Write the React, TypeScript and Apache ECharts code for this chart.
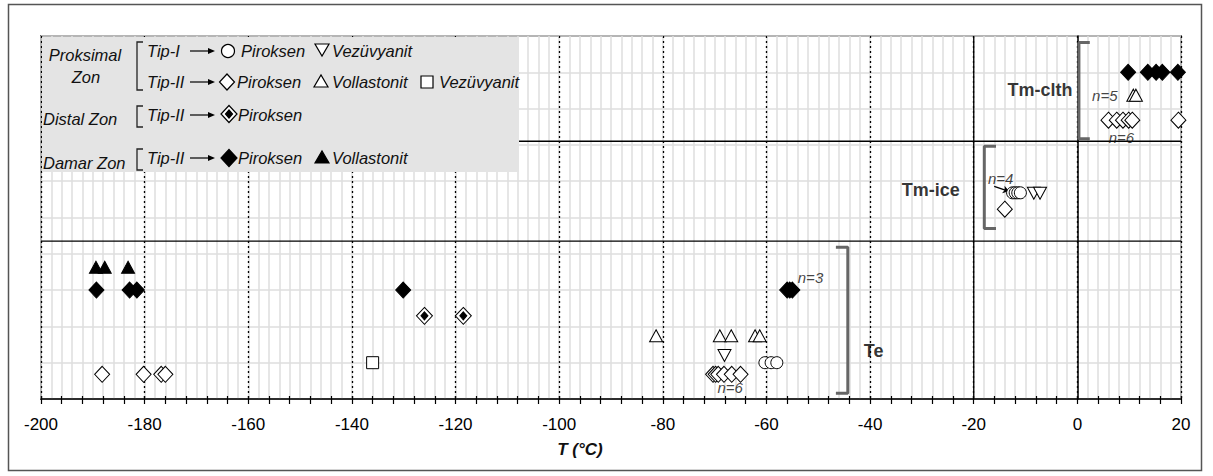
import React, { useEffect, useRef } from "react";
import * as echarts from "echarts";

// ---------- data ----------
const xTicksMajor = [-200, -180, -160, -140, -120, -100, -80, -60, -40, -20, 0, 20];

// Te (ötektik) band
const damarPiroksenTe = [[-189.3, 3.0], [-182.9, 3.0], [-181.5, 3.0], [-130.1, 3.0], [-56.0, 3.0], [-55.5, 3.0], [-55.0, 3.0]];
const damarVollastonitTe = [[-189.4, 3.63], [-187.7, 3.63], [-183.2, 3.63]];
const distalPiroksenTe = [[-126.0, 2.29], [-118.5, 2.29]];
const prok2PiroksenTe = [[-188.2, 0.68], [-180.2, 0.68], [-176.8, 0.68], [-176.0, 0.68], [-70.3, 0.68], [-69.8, 0.68], [-69.3, 0.68], [-68.2, 0.68], [-66.7, 0.68], [-65.0, 0.68]];
const prok2VollastonitTe = [[-81.3, 1.74], [-69.0, 1.74], [-66.8, 1.74], [-62.2, 1.74], [-61.3, 1.74]];
const prok2VezuvyanitTe = [[-136.0, 1.0]];
const prok1PiroksenTe = [[-60.3, 1.0], [-59.1, 1.0], [-58.0, 1.0]];
const prok1VezuvyanitTe = [[-68.1, 1.2]];

// Tm-ice band
const prok1PiroksenIce = [[-12.5, 5.68], [-12.0, 5.68], [-11.5, 5.68], [-11.0, 5.68]];
const prok1VezuvyanitIce = [[-8.4, 5.67], [-7.2, 5.67]];
const prok2PiroksenIce = [[-14.0, 5.23]];

// Tm-clth band
const damarPiroksenClth = [[9.8, 9.0], [13.6, 9.0], [15.2, 9.0], [16.4, 9.0], [19.4, 9.0]];
const prok2VollastonitClth = [[10.8, 8.37], [11.3, 8.37]];
const prok2PiroksenClth = [[6.0, 7.68], [7.6, 7.68], [8.8, 7.68], [9.9, 7.68], [10.6, 7.68], [19.5, 7.68]];

// band separators and brackets
const bandLineUpper = [[-200, 7.1], [20, 7.1]];
const bandLineLower = [[-200, 4.35], [20, 4.35]];
const bandLineVertical = [[-20, 0], [-20, 10]];
const bracketTe = [[-46.6, 4.18], [-44.3, 4.18], [-44.3, 0.16], [-46.6, 0.16]];
const bracketIce = [[-15.7, 6.96], [-17.96, 6.96], [-17.96, 4.7], [-15.7, 4.7]];
const bracketClth = [[2.4, 9.82], [0.3, 9.82], [0.3, 7.17], [2.4, 7.17]];

// annotations
const bandLabels = [
  { text: "Te", x: -41.2, y: 1.32, align: "left" },
  { text: "Tm-ice", x: -28.3, y: 5.75, align: "center" },
  { text: "Tm-clth", x: -7.2, y: 8.5, align: "center" },
];
const countLabels = [
  { text: "n=3", x: -51.5, y: 3.35 },
  { text: "n=6", x: -67.0, y: 0.32 },
  { text: "n=4", x: -14.8, y: 6.07 },
  { text: "n=5", x: 5.3, y: 8.37 },
  { text: "n=6", x: 8.5, y: 7.2 },
];
const arrowN4 = [[-16.05, 5.86], [-13.2, 5.72]];

// ---------- layout ----------
const W = 1213;
const H = 476;
const GL = 41, GT = 36, GW = 1140, GH = 363;
const FONT = "Liberation Sans, Arial, sans-serif";
const LEG_FS = 16.5;

function scatter(data: number[][], symbol: string, size: any, fill: string, extra: any = {}) {
  return {
    type: "scatter",
    data,
    symbol,
    symbolSize: size,
    xAxisIndex: 0,
    yAxisIndex: 0,
    z: 5,
    itemStyle: { color: fill, borderColor: "#000", borderWidth: 1, opacity: 1 },
    emphasis: { disabled: true },
    ...extra,
  };
}

function polyline(data: number[][], color: string, width: number) {
  return {
    type: "line",
    data,
    symbol: "none",
    xAxisIndex: 0,
    yAxisIndex: 0,
    z: 3,
    lineStyle: { color, width },
    silent: true,
  };
}

// legend helpers (pixel graphics)
function gText(text: string, x: number, y: number, opts: any = {}) {
  return {
    type: "text",
    x,
    y,
    z: 101,
    style: {
      text,
      fill: "#111",
      font: `italic ${LEG_FS}px ${FONT}`,
      textVerticalAlign: "middle",
      textAlign: "left",
      ...opts,
    },
  };
}
function gDiamond(cx: number, cy: number, w: number, h: number, fill: string) {
  return {
    type: "polygon",
    z: 101,
    shape: { points: [[cx, cy - h / 2], [cx + w / 2, cy], [cx, cy + h / 2], [cx - w / 2, cy]] },
    style: { fill, stroke: "#000", lineWidth: 1.2 },
  };
}
function gTri(cx: number, cy: number, w: number, h: number, fill: string, down = false) {
  const pts = down
    ? [[cx - w / 2, cy - h / 2], [cx + w / 2, cy - h / 2], [cx, cy + h / 2]]
    : [[cx - w / 2, cy + h / 2], [cx + w / 2, cy + h / 2], [cx, cy - h / 2]];
  return { type: "polygon", z: 101, shape: { points: pts }, style: { fill, stroke: "#000", lineWidth: 1.2 } };
}
function gArrow(x1: number, x2: number, y: number) {
  return [
    { type: "line", z: 101, shape: { x1, y1: y, x2: x2 - 5, y2: y }, style: { stroke: "#000", lineWidth: 1.2 } },
    { type: "polygon", z: 101, shape: { points: [[x2, y], [x2 - 7, y - 3], [x2 - 7, y + 3]] }, style: { fill: "#000" } },
  ];
}
function gBracket(x: number, y1: number, y2: number) {
  return {
    type: "polyline",
    z: 101,
    shape: { points: [[x + 6, y1], [x, y1], [x, y2], [x + 6, y2]] },
    style: { stroke: "#222", lineWidth: 1.3, fill: null },
  };
}

export default function App() {
  const ref = useRef<HTMLDivElement>(null);
  useEffect(() => {
    if (!ref.current) return;
    const chart = echarts.init(ref.current, undefined, { renderer: "svg" });

    const r1 = 51, r2 = 82, r3 = 115, r4 = 158;
    const legend: any[] = [
      { type: "rect", z: 100, shape: { x: GL + 1, y: GT + 1, width: 477, height: 135 }, style: { fill: "#e4e4e4" } },
      gText("Proksimal", 85, 55, { textAlign: "center" }),
      gText("Zon", 86, 77, { textAlign: "center" }),
      gBracket(137, 42, 90),
      gText("Tip-I", 147, r1),
      ...gArrow(190, 215, r1),
      { type: "circle", z: 101, shape: { cx: 228, cy: r1, r: 6.5 }, style: { fill: "#fff", stroke: "#000", lineWidth: 1.2 } },
      gText("Piroksen", 241, r1),
      gTri(322, r1 - 1, 14, 12, "#fff", true),
      gText("Vezüvyanit", 332, r1),
      gText("Tip-II", 147, r2),
      ...gArrow(190, 215, r2),
      gDiamond(227, r2, 15, 16, "#fff"),
      gText("Piroksen", 237, r2),
      gTri(321, r2 - 1, 14, 12, "#fff"),
      gText("Vollastonit", 332, r2),
      { type: "rect", z: 101, shape: { x: 421, y: r2 - 6, width: 12, height: 12 }, style: { fill: "#fff", stroke: "#000", lineWidth: 1.2 } },
      gText("Vezüvyanit", 439, r2),
      gText("Distal Zon", 43, r3 + 4),
      gBracket(137, 106, 127),
      gText("Tip-II", 147, r3),
      ...gArrow(190, 215, r3),
      gDiamond(229, r3 - 1, 16, 17, "#fff"),
      gDiamond(229, r3 - 1, 7, 8, "#000"),
      gText("Piroksen", 238, r3),
      gText("Damar Zon", 43, r4 + 5),
      gBracket(137, 149, 170),
      gText("Tip-II", 147, r4),
      ...gArrow(190, 215, r4),
      gDiamond(229, r4, 16, 17, "#000"),
      gText("Piroksen", 238, r4),
      gTri(322, r4 - 1, 14, 12, "#000"),
      gText("Vollastonit", 332, r4),
    ];

    const frame = {
      type: "rect",
      z: 0,
      silent: true,
      shape: { x: 8.5, y: 4.5, width: 1193, height: 466 },
      style: { fill: null, stroke: "#555", lineWidth: 1.5 },
    };
    const title = {
      type: "text",
      z: 101,
      x: 580,
      y: 449,
      style: { text: "T (°C)", font: `italic bold 17px ${FONT}`, fill: "#111", textAlign: "center", textVerticalAlign: "middle" },
    };

    const openWhite = "#ffffff";
    const series: any[] = [
      polyline(bandLineUpper, "#000", 1.3),
      polyline(bandLineLower, "#000", 1.3),
      polyline(bandLineVertical, "#000", 1.3),
      polyline(bracketTe, "#666", 3),
      polyline(bracketIce, "#666", 3),
      polyline(bracketClth, "#666", 3),
      // Proksimal Tip-I
      scatter(prok1PiroksenTe, "circle", 12, openWhite),
      scatter(prok1PiroksenIce, "circle", 12, openWhite),
      scatter(prok1VezuvyanitTe, "triangle", [13, 12], openWhite, { symbolRotate: 180 }),
      scatter(prok1VezuvyanitIce, "triangle", [13, 12], openWhite, { symbolRotate: 180 }),
      // Proksimal Tip-II
      scatter(prok2PiroksenTe, "diamond", [15, 16], openWhite),
      scatter(prok2PiroksenIce, "diamond", [15, 16], openWhite),
      scatter(prok2PiroksenClth, "diamond", [15, 16], openWhite),
      scatter(prok2VollastonitTe, "triangle", [13, 12], openWhite),
      scatter(prok2VollastonitClth, "triangle", [13, 12], openWhite),
      scatter(prok2VezuvyanitTe, "rect", 12, openWhite),
      // Distal
      scatter(distalPiroksenTe, "diamond", [16, 17], openWhite),
      scatter(distalPiroksenTe, "diamond", [7, 8], "#000", { z: 6 }),
      // Damar
      scatter(damarPiroksenTe, "diamond", [15, 16], "#000"),
      scatter(damarPiroksenClth, "diamond", [15, 16], "#000"),
      scatter(damarVollastonitTe, "triangle", [13, 12], "#000"),
      // band labels
      {
        type: "scatter",
        symbolSize: 0,
        z: 7,
        silent: true,
        data: bandLabels.map((b) => ({
          value: [b.x, b.y],
          label: {
            show: true,
            position: "inside",
            formatter: b.text,
            align: b.align,
            verticalAlign: "middle",
            color: "#000",
            fontFamily: FONT,
            fontWeight: "bold",
            fontSize: 18,
          },
        })),
      },
      {
        type: "scatter",
        symbolSize: 0,
        z: 7,
        silent: true,
        data: countLabels.map((b) => ({
          value: [b.x, b.y],
          label: {
            show: true,
            position: "inside",
            formatter: b.text,
            align: "center",
            verticalAlign: "middle",
            color: "#111",
            fontFamily: FONT,
            fontStyle: "italic",
            fontSize: 15,
          },
        })),
        markLine: {
          silent: true,
          symbol: ["none", "arrow"],
          symbolSize: 6,
          label: { show: false },
          lineStyle: { color: "#000", width: 1.3, type: "solid" },
          data: [[{ coord: arrowN4[0] }, { coord: arrowN4[1] }]],
        },
      },
    ];

    const baseX = { type: "value", min: -200, max: 20, gridIndex: 0 };
    chart.setOption({
      animation: false,
      grid: { left: GL, top: GT, width: GW, height: GH, show: true, borderColor: "#000", borderWidth: 1.5, backgroundColor: "#fff" },
      xAxis: [
        {
          ...baseX,
          position: "bottom",
          interval: 4,
          axisLine: { show: true, lineStyle: { color: "#000", width: 1.5 } },
          axisTick: { show: true, inside: false, length: 5, lineStyle: { color: "#000", width: 1.2 } },
          axisLabel: {
            color: "#000",
            fontFamily: FONT,
            fontSize: 17,
            margin: 17,
            formatter: (v: number) => (xTicksMajor.includes(v) ? String(v) : ""),
          },
          splitLine: { show: false },
        },
        {
          ...baseX,
          position: "bottom",
          interval: 2,
          axisLine: { show: false },
          axisTick: { show: false },
          axisLabel: { show: false },
          splitLine: { show: true, lineStyle: { color: "#dedede", width: 1.5 } },
        },
        {
          ...baseX,
          position: "bottom",
          interval: 20,
          axisLine: { show: false },
          axisTick: { show: false },
          axisLabel: { show: false },
          splitLine: { show: true, lineStyle: { color: "#000", width: 1.3, type: [2, 3] } },
        },
        {
          ...baseX,
          position: "bottom",
          interval: 4,
          axisLine: { show: false },
          axisTick: { show: true, inside: true, length: 3, lineStyle: { color: "#000", width: 1.2 } },
          axisLabel: { show: false },
          splitLine: { show: false },
        },
      ],
      yAxis: [
        {
          type: "value",
          min: 0,
          max: 10,
          interval: 1,
          axisLine: { show: true, lineStyle: { color: "#000", width: 1.5 } },
          axisTick: { show: false },
          axisLabel: { show: false },
          splitLine: { show: true, lineStyle: { color: "#dedede", width: 1.5 } },
        },
      ],
      series,
      graphic: [frame, title, ...legend],
    });
    return () => chart.dispose();
  }, []);

  return (
    <div
      ref={ref}
      style={{ position: "fixed", left: 0, top: 0, width: W, height: H, background: "#fff" }}
    />
  );
}
